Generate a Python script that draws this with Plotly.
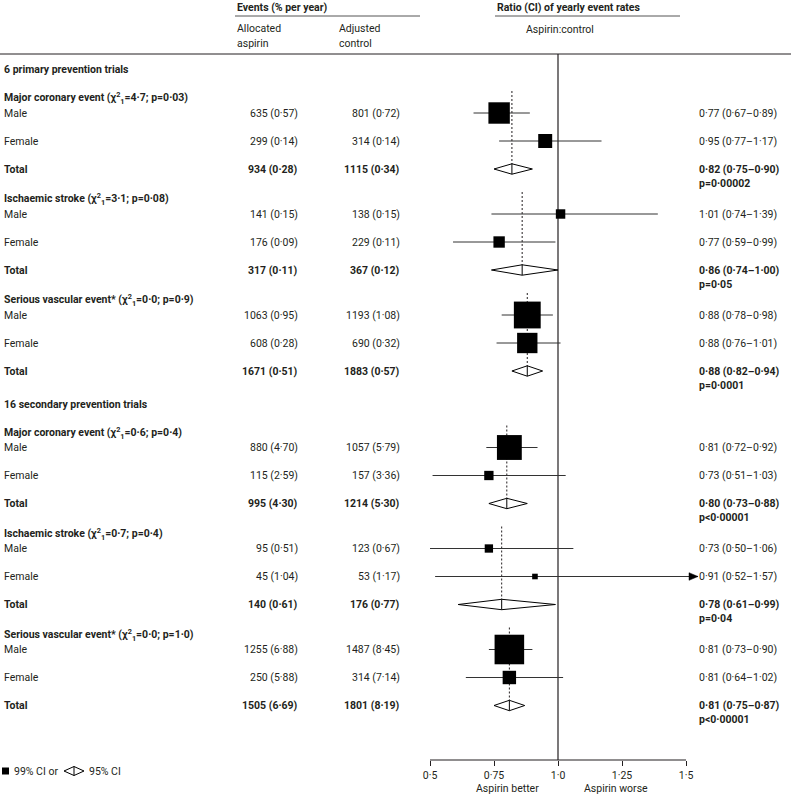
import math
import plotly.graph_objects as go

W, H = 791, 797

# ---------------- data ----------------
SECTIONS = ["6 primary prevention trials", "16 secondary prevention trials"]
OUTCOMES = ["Major coronary event", "Ischaemic stroke", "Serious vascular event*"]
HET_CHI2 = [["4·7", "3·1", "0·0"], ["0·6", "0·7", "0·0"]]
HET_P = [["0·03", "0·08", "0·9"], ["0·4", "0·4", "1·0"]]
SUBGROUPS = ["Male", "Female", "Total"]

# [section][outcome][male, female, total]
ASP_EVENTS = [[[635, 299, 934], [141, 176, 317], [1063, 608, 1671]],
              [[880, 115, 995], [95, 45, 140], [1255, 250, 1505]]]
ASP_RATE = [[[0.57, 0.14, 0.28], [0.15, 0.09, 0.11], [0.95, 0.28, 0.51]],
            [[4.70, 2.59, 4.30], [0.51, 1.04, 0.61], [6.88, 5.88, 6.69]]]
CTL_EVENTS = [[[801, 314, 1115], [138, 229, 367], [1193, 690, 1883]],
              [[1057, 157, 1214], [123, 53, 176], [1487, 314, 1801]]]
CTL_RATE = [[[0.72, 0.14, 0.34], [0.15, 0.11, 0.12], [1.08, 0.32, 0.57]],
            [[5.79, 3.36, 5.30], [0.67, 1.17, 0.77], [8.45, 7.14, 8.19]]]
RATIO = [[[0.77, 0.95, 0.82], [1.01, 0.77, 0.86], [0.88, 0.88, 0.88]],
         [[0.81, 0.73, 0.80], [0.73, 0.91, 0.78], [0.81, 0.81, 0.81]]]
CI_LO = [[[0.67, 0.77, 0.75], [0.74, 0.59, 0.74], [0.78, 0.76, 0.82]],
         [[0.72, 0.51, 0.73], [0.50, 0.52, 0.61], [0.73, 0.64, 0.75]]]
CI_HI = [[[0.89, 1.17, 0.90], [1.39, 0.99, 1.00], [0.98, 1.01, 0.94]],
         [[0.92, 1.03, 0.88], [1.06, 1.57, 0.99], [0.90, 1.02, 0.87]]]
P_TOTAL = [["p=0·00002", "p=0·05", "p=0·0001"],
           ["p<0·00001", "p=0·04", "p<0·00001"]]

X_TICKS = [0.5, 0.75, 1.0, 1.25, 1.5]
X_TICK_LABELS = ["0·5", "0·75", "1·0", "1·25", "1·5"]

# ---------------- style / layout ----------------
FONT = "Roboto"
FS = 10.5
FS_BOLD = 10.5
TXT = "#231f20"
LINE = "#333333"
X0_PX, PX_PER_UNIT = 430.0, 256.0          # pixel of ratio 0.5, pixels per unit
XMIN = 0.5 - X0_PX / PX_PER_UNIT
XMAX = 0.5 + (W - X0_PX) / PX_PER_UNIT
X_CLIP = 1.547                               # right end of drawable ratio range
AXIS_Y = 760
TOP_RULE_Y = 54
COL_ASP, COL_CTL, COL_RIGHT = 300, 402, 697
BOX_K = 0.565                                # box side ~ sqrt(events)
DIAM_H = 5.2


def fmt(v):
    return f"{v:.2f}".replace(".", "·")


def dx(px):
    return px / PX_PER_UNIT


annotations = []


def txt(xpx, y, s, anchor="left", bold=False):
    size = FS
    if bold:
        s = f"<b>{s}</b>"
        size = FS_BOLD
    annotations.append(dict(x=xpx / W, xref="paper", y=y, yref="y", text=s,
                            showarrow=False, xanchor=anchor, yanchor="middle",
                            font=dict(family=FONT, size=size, color=TXT)))


shapes = []


def hline(x0px, x1px, y, width=1, color=TXT):
    shapes.append(dict(type="line", xref="paper", yref="y", x0=x0px / W, x1=x1px / W,
                       y0=y, y1=y, line=dict(color=color, width=width)))


# header
txt(235, 7, "Events (% per year)", bold=True)
hline(235, 420, 16, 1, "#555")
txt(235, 28, "Allocated")
txt(235, 43, "aspirin")
txt(337, 28, "Adjusted")
txt(337, 43, "control")
txt(495, 7, "Ratio (CI) of yearly event rates", bold=True)
hline(495, 680, 16, 1, "#555")
txt(524, 29, "Aspirin:control")
hline(0, W, TOP_RULE_Y, 1, TXT)

# rows
y = 69.5
dash_x, dash_y = [], []
ci_x, ci_y = [], []
box_x, box_y, box_s = [], [], []
arrows = []
diamonds = []
for s in range(2):
    txt(2, y, SECTIONS[s], bold=True)
    y += 28.5
    for o in range(3):
        head_y = y
        txt(2, head_y, f"{OUTCOMES[o]} (χ<sup>2</sup><sub>1</sub>={HET_CHI2[s][o]}; p={HET_P[s][o]})", bold=True)
        ys = [head_y + 15, head_y + 43, head_y + 71]
        for g in range(3):
            yy = ys[g]
            bold = g == 2
            txt(2, yy, SUBGROUPS[g], bold=bold)
            txt(COL_ASP, yy, f"{ASP_EVENTS[s][o][g]} ({fmt(ASP_RATE[s][o][g])})", "right", bold)
            txt(COL_CTL, yy, f"{CTL_EVENTS[s][o][g]} ({fmt(CTL_RATE[s][o][g])})", "right", bold)
            r, lo, hi = RATIO[s][o][g], CI_LO[s][o][g], CI_HI[s][o][g]
            txt(COL_RIGHT, yy, f"{fmt(r)} ({fmt(lo)}–{fmt(hi)})", "left", bold)
            if g < 2:
                end = min(hi, X_CLIP)
                ci_x += [lo, end, None]
                ci_y += [yy, yy, None]
                box_x.append(r)
                box_y.append(yy)
                box_s.append(BOX_K * math.sqrt(ASP_EVENTS[s][o][g] + CTL_EVENTS[s][o][g]))
                if hi > X_CLIP:
                    arrows.append((X_CLIP, yy))
            else:
                txt(COL_RIGHT, yy + 14, P_TOTAL[s][o], "left", True)
                diamonds.append((lo, r, hi, yy))
                dash_x += [r, r, None]
                dash_y += [head_y - 7, yy, None]
        y = ys[2] + 30
    y = ys[2] + 33

fig = go.Figure()

# vertical line at 1.0 and axis line
shapes.append(dict(type="line", xref="x", yref="y", x0=1.0, x1=1.0, y0=TOP_RULE_Y, y1=AXIS_Y,
                   line=dict(color=TXT, width=1.2), layer="below"))
shapes.append(dict(type="line", xref="x", yref="y", x0=X_TICKS[0], x1=X_TICKS[-1],
                   y0=AXIS_Y, y1=AXIS_Y, line=dict(color=TXT, width=1.2)))

fig.add_trace(go.Scatter(x=dash_x, y=dash_y, mode="lines",
                         line=dict(color=TXT, width=1, dash="2px,2px"), hoverinfo="skip"))
fig.add_trace(go.Scatter(x=ci_x, y=ci_y, mode="lines",
                         line=dict(color=LINE, width=1), hoverinfo="skip"))
fig.add_trace(go.Scatter(x=box_x, y=box_y, mode="markers", opacity=1,
                         marker=dict(symbol="square", size=box_s, color="#000000", opacity=1,
                                     line=dict(width=0)), hoverinfo="skip"))
for tip, yy in arrows:
    fig.add_trace(go.Scatter(x=[tip - dx(9), tip, tip - dx(9), tip - dx(9)],
                             y=[yy - 3.8, yy, yy + 3.8, yy - 3.8], mode="lines",
                             fill="toself", fillcolor="black",
                             line=dict(color="black", width=0.5), hoverinfo="skip"))
for lo, r, hi, yy in diamonds:
    fig.add_trace(go.Scatter(x=[lo, r, hi, r, lo], y=[yy, yy - DIAM_H, yy, yy + DIAM_H, yy],
                             mode="lines", fill="toself", fillcolor="white",
                             line=dict(color="black", width=1), hoverinfo="skip"))
    fig.add_trace(go.Scatter(x=[r, r], y=[yy - DIAM_H, yy + DIAM_H], mode="lines",
                             line=dict(color="black", width=1), hoverinfo="skip"))

# legend (bottom left)
LEG_Y = 771
shapes.append(dict(type="rect", xref="paper", yref="y", x0=2 / W, x1=9 / W,
                   y0=LEG_Y - 3.5, y1=LEG_Y + 3.5, fillcolor="black", line=dict(width=0)))
txt(12, LEG_Y, "99% CI or")
shapes.append(dict(type="path", xref="paper", yref="y",
                   path=f"M {64 / W},{LEG_Y} L {74 / W},{LEG_Y - 4.5} L {84 / W},{LEG_Y} "
                        f"L {74 / W},{LEG_Y + 4.5} Z",
                   fillcolor="white", line=dict(color="black", width=1)))
shapes.append(dict(type="line", xref="paper", yref="y", x0=74 / W, x1=74 / W,
                   y0=LEG_Y - 4.5, y1=LEG_Y + 4.5, line=dict(color="black", width=1)))
txt(87, LEG_Y, "95% CI")

# axis captions
txt(507, 788, "Aspirin better", "center")
txt(616, 788, "Aspirin worse", "center")

fig.update_layout(
    width=W, height=H, margin=dict(l=0, r=0, t=0, b=0),
    paper_bgcolor="white", plot_bgcolor="white", showlegend=False,
    font=dict(family=FONT, size=FS, color=TXT),
    xaxis=dict(domain=[0, 1], range=[XMIN, XMAX], showgrid=False, zeroline=False,
               showline=False, tickvals=X_TICKS, ticktext=X_TICK_LABELS,
               ticks="outside", ticklen=5, tickwidth=1, tickcolor=TXT,
               tickfont=dict(family=FONT, size=FS, color=TXT),
               anchor="free", position=1 - AXIS_Y / H, fixedrange=True),
    yaxis=dict(domain=[0, 1], range=[H, 0], visible=False, fixedrange=True),
    shapes=shapes, annotations=annotations,
)

fig.write_html("out.html", config={"displayModeBar": False},
               post_script="document.body.style.margin='0';")
